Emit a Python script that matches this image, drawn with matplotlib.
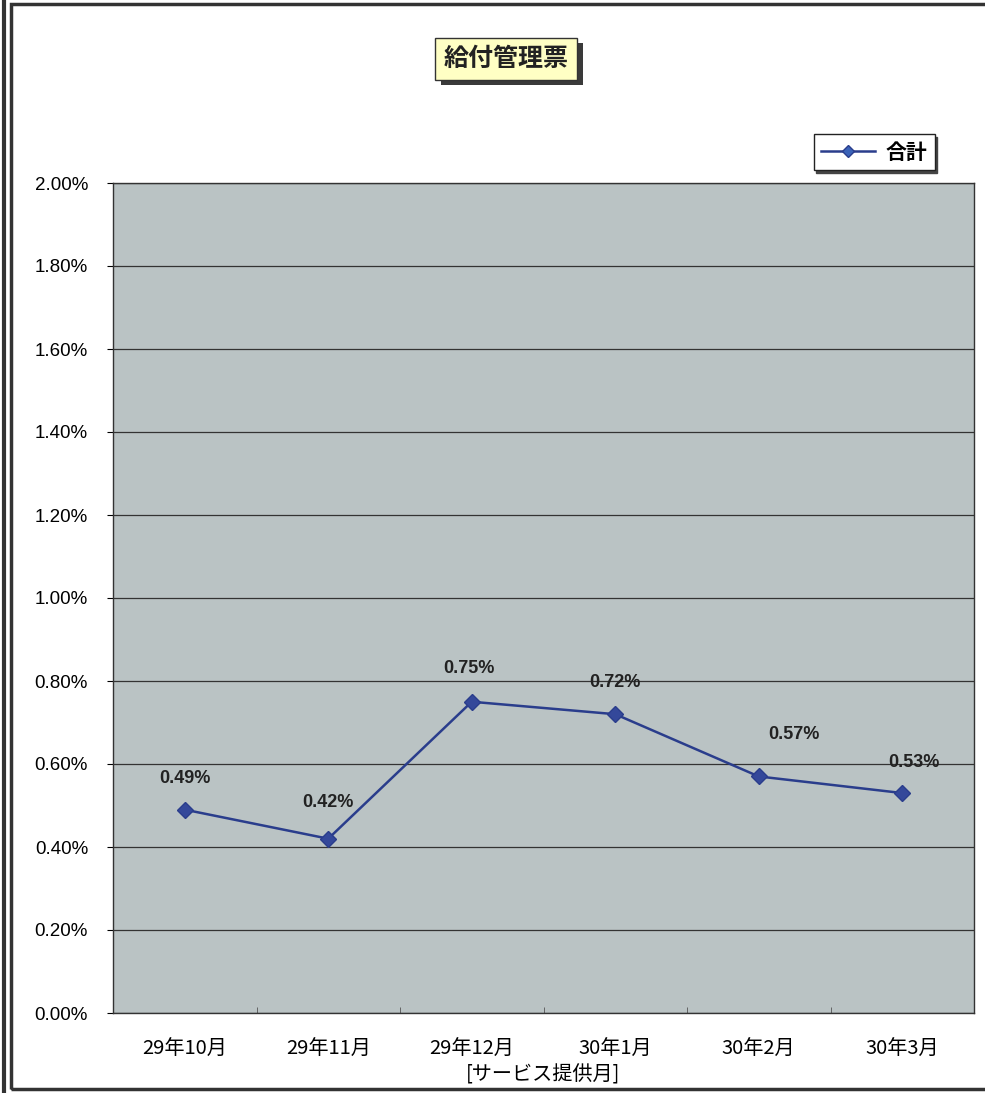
import matplotlib.pyplot as plt
import matplotlib.patches as mpatches
from matplotlib.lines import Line2D
from matplotlib.ticker import PercentFormatter, FixedLocator

plt.rcParams['font.family'] = ['Noto Sans CJK JP', 'DejaVu Sans']

# データ
months = ['29年10月', '29年11月', '29年12月', '30年1月', '30年2月', '30年3月']
rates = [0.49, 0.42, 0.75, 0.72, 0.57, 0.53]  # %
# ラベルの位置調整 (px)
label_dx = [0, 0, -3, 0, 35, 12]
label_dy = [31, 36, 33, 32, 42, 31]

W, H = 985, 1093
fig = plt.figure(figsize=(W / 100, H / 100), dpi=100)
fig.patch.set_facecolor('white')

ax = fig.add_axes([113 / W, 1 - 1013 / H, (974 - 113) / W, (1013 - 183) / H])
ax.set_facecolor('#bac3c4')

x = list(range(len(months)))
line_color = '#2a3d8c'
ax.plot(x, rates, color=line_color, lw=1.8, marker='D', ms=8,
        mfc='#34489a', mec=line_color, zorder=3, label='合計')

for i, v in enumerate(rates):
    ax.annotate(f'{v:.2f}%', (i, v), xytext=(label_dx[i] * 0.72, label_dy[i] * 0.72),
                textcoords='offset points', ha='center', va='center',
                fontsize=13, fontweight='bold', color='#222222',
                family=['Liberation Sans', 'DejaVu Sans'])

ax.set_xlim(-0.5, len(months) - 0.5)
ax.set_ylim(0, 2.0)
ax.yaxis.set_major_locator(FixedLocator([i * 0.2 for i in range(11)]))
ax.yaxis.set_major_formatter(PercentFormatter(decimals=2))
ax.grid(axis='y', color='#333333', lw=0.9)
ax.set_axisbelow(True)

ax.set_xticks(x)
ax.set_xticklabels(months, fontsize=14.5)
ax.set_xticks([i + 0.5 for i in range(len(months) - 1)], minor=True)
ax.tick_params(axis='x', which='major', length=0, pad=19)
ax.tick_params(axis='x', which='minor', direction='in', length=4, color='#555555')
ax.tick_params(axis='y', length=4, direction='out', labelsize=13.5, pad=14)
for lab in ax.get_yticklabels():
    lab.set_family(['Liberation Sans', 'DejaVu Sans'])
ax.set_xlabel('[サービス提供月]', fontsize=14.5, labelpad=3)

for s in ax.spines.values():
    s.set_color('#333333')
    s.set_linewidth(1.0)

# 凡例
leg = ax.legend(handles=[Line2D([], [], color=line_color, lw=1.8, marker='D', ms=6,
                                mfc='#3b63b8', mec=line_color)],
                labels=['合計'], loc='upper right',
                bbox_to_anchor=(945 / W, 1 - 124 / H), bbox_transform=fig.transFigure,
                frameon=True, fancybox=False, shadow={'color': '#444444', 'alpha': 1.0},
                edgecolor='#222222', framealpha=1, fontsize=15, handlelength=2.6,
                borderpad=0.35, handletextpad=0.5)
leg.get_frame().set_linewidth(1.0)
for t in leg.get_texts():
    t.set_fontweight('bold')

# タイトル枠
fig.add_artist(mpatches.Rectangle((441 / W, 1 - 85 / H), 142 / W, 42 / H,
                                  transform=fig.transFigure, facecolor='#3a3a3a',
                                  edgecolor='none'))
fig.add_artist(mpatches.Rectangle((435 / W, 1 - 80 / H), 142 / W, 42 / H,
                                  transform=fig.transFigure, facecolor='#ffffc4',
                                  edgecolor='#333333', lw=1.0))
fig.text(506 / W, 1 - 59 / H, '給付管理票', ha='center', va='center',
         fontsize=18, fontweight='bold', color='#222222')

# 外枠
fig.add_artist(mpatches.Rectangle((11 / W, 4 / H), (W - 11) / W + 0.01, (H - 8) / H,
                                  transform=fig.transFigure, facecolor='none',
                                  edgecolor='#333333', lw=2.5))
fig.add_artist(Line2D([4 / W, 4 / W], [0, 1], transform=fig.transFigure,
                      color='#333333', lw=3))

fig.savefig('out.png', dpi=100)
